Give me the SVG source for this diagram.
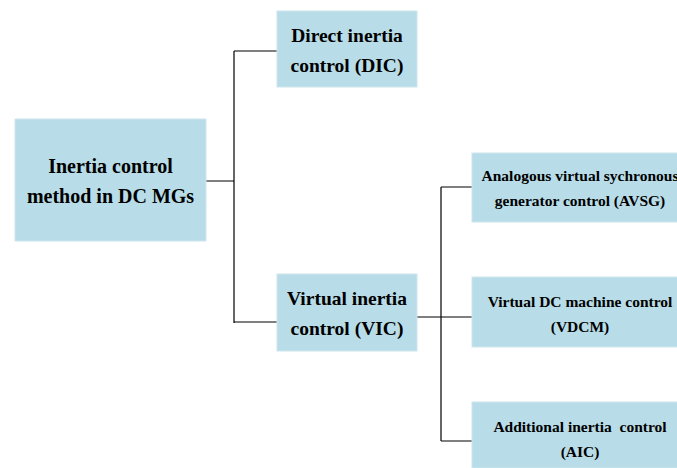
<svg xmlns="http://www.w3.org/2000/svg" width="677" height="468" viewBox="0 0 677 468">
<style>
.box{fill:#b8dde8;stroke:#cde6ee;stroke-width:1}
.t{font-family:"Liberation Serif","Times New Roman",serif;font-weight:bold;fill:#000;text-anchor:middle}
.l{font-size:20px}
.m{font-size:19.5px}
.s{font-size:15.5px}
.c{fill:none;stroke:#000;stroke-width:1.2}
</style>
<rect width="677" height="468" fill="#fff"/>
<g id="connectors">
<path class="c" d="M206 181H234M234 51V323M234 51H277M234 322H277"/>
<path class="c" d="M417 317H472M441 187V441M441 187H472M441 441H472"/>
</g>
<g id="root">
<rect class="box" x="15" y="119" width="191" height="122"/>
<text class="t l" x="110.5" y="173">Inertia control</text>
<text class="t l" x="110.5" y="203">method in DC MGs</text>
</g>
<g id="dic">
<rect class="box" x="277" y="11" width="140" height="76"/>
<text class="t m" x="347" y="42">Direct inertia</text>
<text class="t m" x="347" y="72">control (DIC)</text>
</g>
<g id="vic">
<rect class="box" x="277" y="274" width="140" height="77"/>
<text class="t m" x="347" y="305">Virtual inertia</text>
<text class="t m" x="347" y="335">control (VIC)</text>
</g>
<g id="avsg">
<rect class="box" x="472" y="153" width="216" height="69"/>
<text class="t s" x="580" y="181">Analogous virtual sychronous</text>
<text class="t s" x="580" y="206">generator control (AVSG)</text>
</g>
<g id="vdcm">
<rect class="box" x="472" y="277" width="216" height="70"/>
<text class="t s" x="580" y="307">Virtual DC machine control</text>
<text class="t s" x="580" y="332">(VDCM)</text>
</g>
<g id="aic">
<rect class="box" x="472" y="402" width="216" height="66"/>
<text class="t s" x="580" y="432" xml:space="preserve">Additional inertia  control</text>
<text class="t s" x="580" y="457">(AIC)</text>
</g>
</svg>
